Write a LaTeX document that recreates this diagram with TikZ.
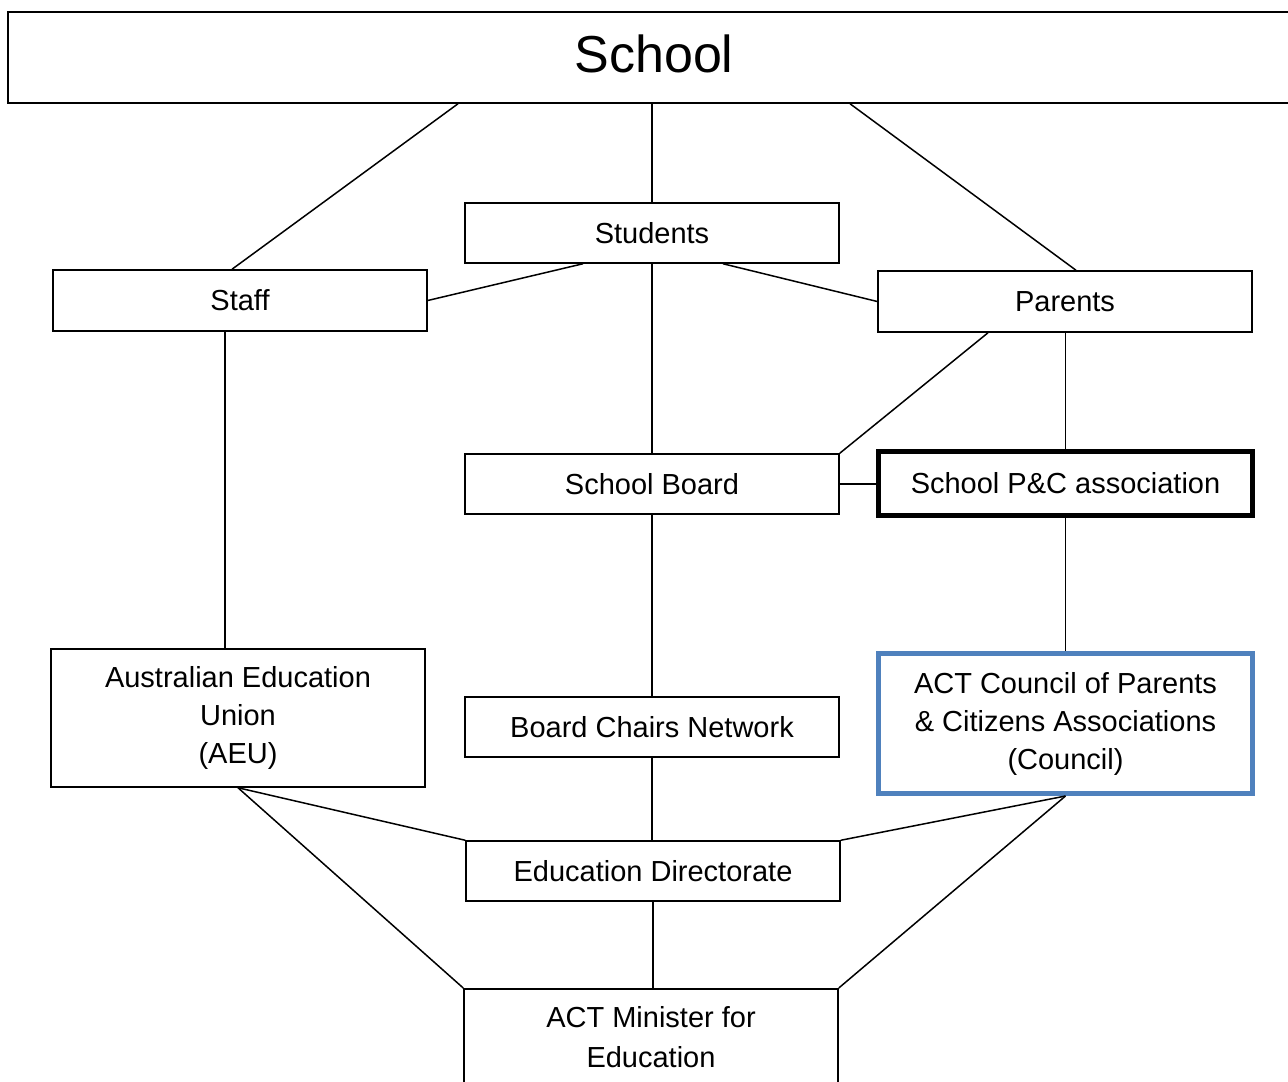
\documentclass[tikz,border=0pt]{standalone}
\usepackage{fontspec}
\setmainfont{Liberation Sans}
\definecolor{councilblue}{RGB}{79,129,189}

\begin{document}
\begin{tikzpicture}[x=0.5pt,y=0.5pt,line width=0.75pt]
\tikzstyle{every node}+=[font=\fontsize{14.5}{19}\selectfont]
\tikzstyle{box}=[draw, line width=0.75pt, minimum width=187pt, minimum height=30pt, inner sep=2pt]
\useasboundingbox (0,0) rectangle (1288,-1081);
\node [box, minimum width=646pt, minimum height=45.5pt, text depth=3.5pt, font=\fontsize{26}{30}\selectfont] (school) at (654,-57.5) {School};
\node [box] (students) at (652,-233) {Students};
\node [box, minimum height=30.5pt] (staff) at (240,-300.5) {Staff};
\node [box, minimum height=30.5pt] (parents) at (1065,-301.5) {Parents};
\node [box] (board) at (652,-484) {School Board};
\node [box, line width=2.5pt, minimum height=32pt] (pandc) at (1065.5,-483.5) {School P\&C association};
\node [box, align=center, minimum height=69pt] (aeu) at (238,-718) {Australian Education\\Union\\(AEU)};
\node [box] (chairs) at (652,-727) {Board Chairs Network};
\node [box, align=center, draw=councilblue, line width=2.5pt, minimum height=70pt] (council) at (1065.5,-723.5) {ACT Council of Parents\\\& Citizens Associations\\(Council)};
\node [box] (directorate) at (653,-871) {Education Directorate};
\node [box, anchor=north, text depth=70pt, inner ysep=5.5pt, font=\fontsize{14.5}{20}\selectfont] (minister) at (651,-988) {\begin{tabular}[t]{@{}c@{}}ACT Minister for\\Education\end{tabular}};
\draw ([xshift=-98pt]school.south) -- ([xshift=-4pt]staff.north);
\draw (students.north |- school.south) -- (students.north);
\draw ([xshift=98pt]school.south) -- ([xshift=5.5pt]parents.north);
\draw ([xshift=-34.5pt]students.south) -- (staff.east);
\draw ([xshift=35.5pt]students.south) -- (parents.west);
\draw (students.south) -- (board.north);
\draw ([xshift=-7.5pt]staff.south) -- ([xshift=-7.5pt]staff.south |- aeu.north);
\draw ([xshift=-38.5pt]parents.south) -- (board.north east);
\draw (pandc.north |- parents.south) -- (pandc.north);
\draw (board.east) -- (board.east -| pandc.west);
\draw (board.south) -- (chairs.north);
\draw (pandc.south) -- (council.north);
\draw (chairs.south) -- (chairs.south |- directorate.north);
\draw (aeu.south) -- (directorate.north west);
\draw (aeu.south) -- (minister.north west);
\draw (council.south) -- (directorate.north east);
\draw (council.south) -- (minister.north east);
\draw (directorate.south) -- (directorate.south |- minister.north);
\end{tikzpicture}
\end{document}
